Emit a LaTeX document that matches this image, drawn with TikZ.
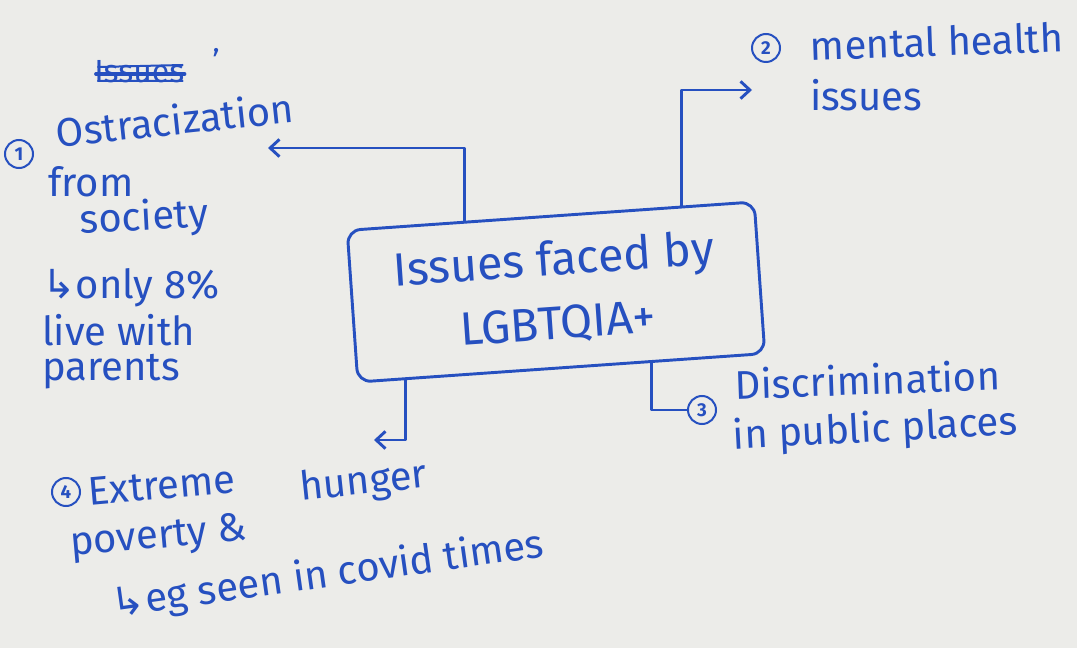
\documentclass[tikz,border=0pt]{standalone}
\usepackage{fontspec}
\setmainfont{Fira Sans}
\newfontfamily\symfont{DejaVu Sans}
\usetikzlibrary{arrows.meta,calc}
\definecolor{ink}{RGB}{38,80,192}
\definecolor{paper}{RGB}{236,236,233}
\begin{document}
\begin{tikzpicture}[x=0.75pt,y=-0.75pt,
  pen/.style={draw=ink,line width=2.2pt,line cap=round,line join=round},
  link/.style={pen,-{Straight Barb[length=7pt,width=13pt]}},
  note/.style={text=ink,font=\fontsize{30}{34}\selectfont,anchor=west,inner sep=0pt},
  num/.style={draw=ink,line width=1.5pt,circle,text=ink,
    font=\fontsize{14}{14}\selectfont\bfseries,inner sep=0pt,minimum size=21pt},
  hubbox/.style={pen,rounded corners=10pt,minimum width=306pt,minimum height=114pt,
    text=ink,font=\fontsize{35}{48}\selectfont,align=center}]
\fill[paper] (0,0) rectangle (1077,648);
\useasboundingbox (0,0) rectangle (1077,648);

% central topic
\node[hubbox,rotate=4] (hub) at (556,292) {Issues faced by\\LGBTQIA+};

% heading, scribbled out
\node[note,font=\fontsize{24}{28}\selectfont] (head) at (94,72) {Issues};
\draw[pen,line width=2.8pt] ($(head.west)+(2,2)$) -- ($(head.east)+(0,2)$);
\draw[pen,line width=1.5pt] ($(head.west)+(4,-5)$) -- ($(head.east)+(-2,-7)$)
  ($(head.west)+(4,9)$) -- ($(head.east)+(-2,9)$);
\node[note,font=\fontsize{24}{28}\selectfont] (headmark) at (212,60) {'};

% 1: ostracization
\node[num] (n1) at (19,154) {1};
\node[note,rotate=6] (t1a) at (56,132) {Ostracization};
\node[note] (t1b) at (48,182) {from};
\node[note,rotate=3] (t1c) at (80,222) {society};
\node[note] (t1d) at (42,288) {{\symfont ↳}only 8\%};
\node[note] (t1e) at (42,330) {live with};
\node[note] (t1f) at (42,372) {parents};

% 2: mental health
\node[num] (n2) at (766,48) {2};
\node[note,rotate=2] (t2a) at (810,46) {mental health};
\node[note] (t2b) at (810,95) {issues};

% 3: discrimination
\node[num] (n3) at (702,410) {3};
\node[note,rotate=2] (t3a) at (735,384) {Discrimination};
\node[note,rotate=3] (t3b) at (733,438) {in public places};

% 4: poverty
\node[num] (n4) at (66,492) {4};
\node[note,rotate=5] (t4a) at (88,492) {Extreme};
\node[note,rotate=6] (t4b) at (300,490) {hunger};
\node[note,rotate=5] (t4c) at (70,546) {poverty \&};
\node[note,rotate=8] (t4d) at (112,606) {{\symfont ↳}eg seen in covid times};

% connectors from the central topic
\coordinate (e1) at (268,148);
\coordinate (e2) at (752,90);
\coordinate (e4) at (374,440);
\draw[link] ($(hub.north west)!0.29!(hub.north east)$) |- (e1);
\draw[link] ($(hub.north west)!0.82!(hub.north east)$) |- (e2);
\draw[pen] ($(hub.south west)!0.72!(hub.south east)$) |- (n3.west);
\draw[link] ($(hub.south west)!0.12!(hub.south east)$) |- (e4);
\end{tikzpicture}
\end{document}
